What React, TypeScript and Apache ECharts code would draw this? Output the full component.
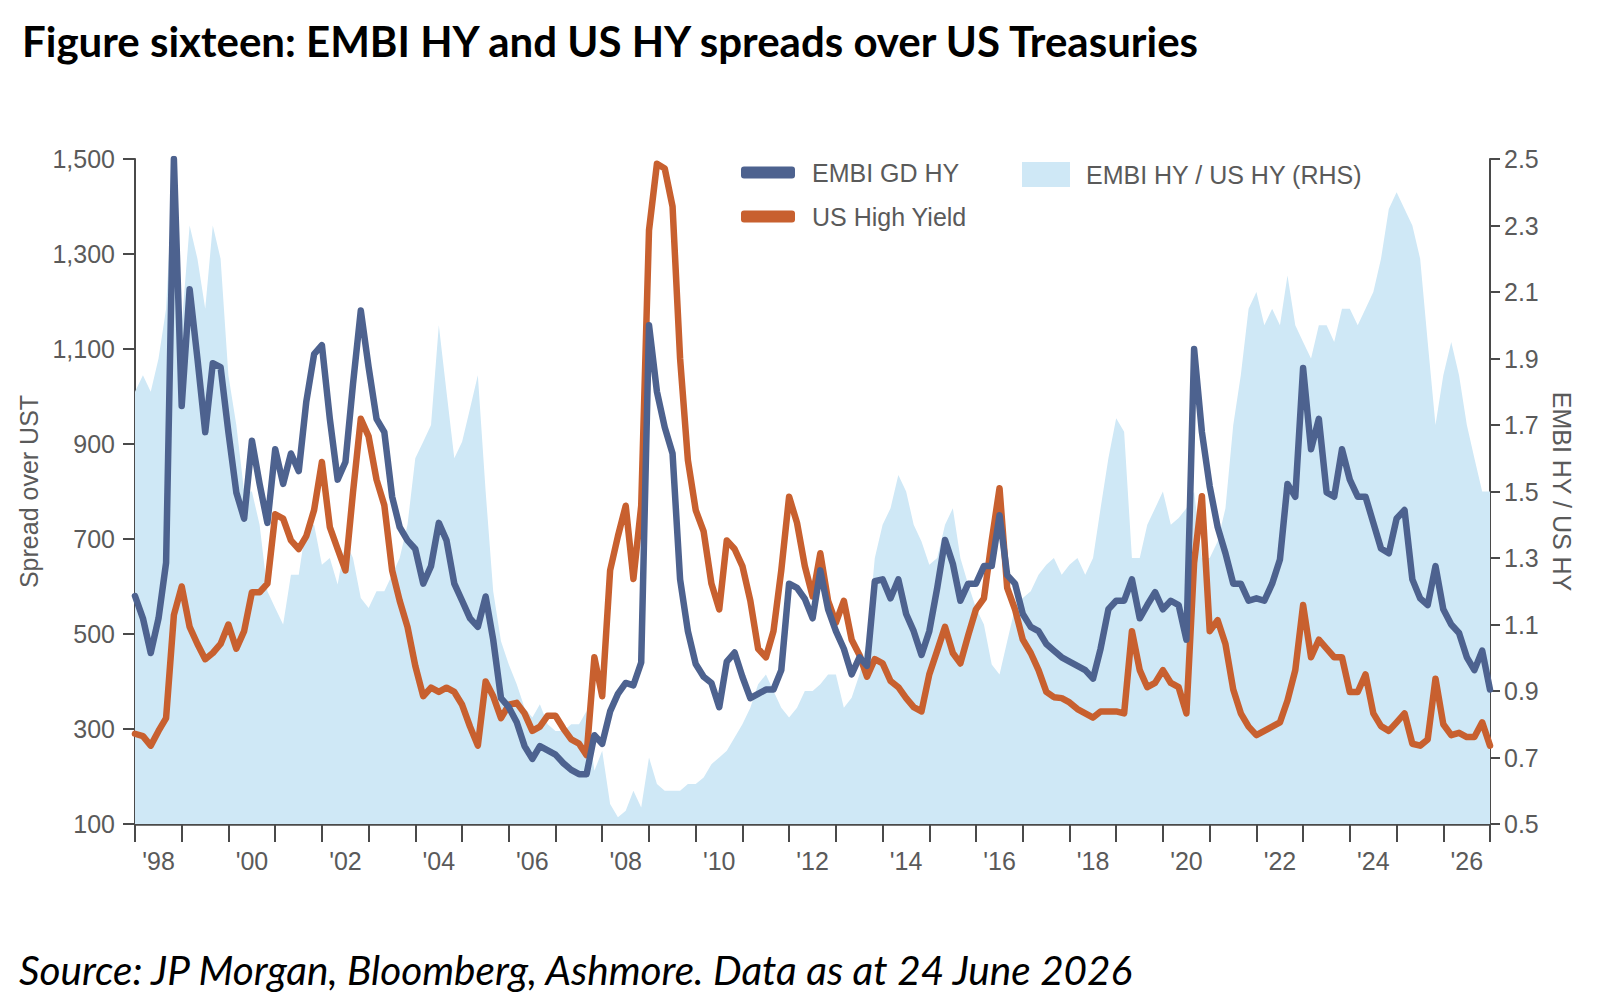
import { useEffect, useRef } from "react";
import * as echarts from "echarts";

const TITLE = "Figure sixteen: EMBI HY and US HY spreads over US Treasuries";
const SOURCE = "Source: JP Morgan, Bloomberg, Ashmore. Data as at 24 June 2026";

// observations every two months, from July 1997
const firstYear = 1997;
const firstMonth = 7;
const stepMonths = 2;

// EMBI GD HY spread over UST (bp)
const embiHY = [
  580, 533, 460, 533, 650, 1500, 980, 1226, 1080, 925, 1070, 1062, 925, 798, 743,
  907, 816, 734, 889, 816, 880, 843, 989, 1089, 1108, 953, 825, 862, 1026, 1181,
  1062, 953, 925, 789, 725, 697, 679, 606, 643, 734, 697, 606, 570, 533, 515,
  579, 488, 365, 346, 314, 264, 237, 264, 255, 246, 228, 214, 205, 205, 287,
  269, 337, 374, 397, 392, 440, 1150, 1010, 935, 880, 615, 506, 437, 410, 397,
  346, 442, 461, 410, 365, 374, 383, 383, 424, 606, 597, 574, 533, 634, 552,
  506, 469, 415, 451, 433, 611, 615, 575, 615, 542, 506, 456, 506, 597, 698,
  648, 570, 606, 606, 643, 643, 750, 624, 606, 542, 515, 506, 479, 465, 451,
  442, 433, 424, 406, 469, 552, 570, 570, 615, 533, 561, 588, 552, 570, 561,
  488, 1100, 925, 811, 725, 670, 606, 606, 570, 575, 570, 606, 657, 816, 789,
  1060, 889, 953, 798, 789, 889, 825, 789, 789, 734, 680, 670, 743, 761, 615,
  575, 561, 643, 552, 520, 502, 451, 424, 465, 383,
];

// US High Yield spread over UST (bp)
const usHY = [
  290, 285, 265, 296, 323, 540, 600, 515, 479, 447, 460, 479, 520, 469, 506,
  588, 588, 606, 752, 743, 697, 679, 706, 761, 862, 725, 679, 634, 798, 953,
  916, 825, 771, 634, 570, 515, 433, 369, 387, 378, 387, 378, 351, 305, 265,
  400, 369, 323, 351, 355, 333, 296, 305, 328, 328, 301, 278, 269, 245, 451,
  369, 634, 706, 770, 616, 770, 1350, 1490, 1480, 1400, 1080, 866, 761, 716, 606,
  552, 697, 679, 643, 570, 469, 451, 506, 634, 789, 734, 643, 579, 670, 570,
  524, 570, 488, 456, 410, 447, 438, 401, 388, 365, 346, 337, 415, 465, 515,
  460, 438, 497, 552, 575, 697, 807, 597, 552, 488, 460, 424, 378, 367, 365,
  356, 342, 333, 324, 337, 337, 337, 333, 506, 424, 388, 397, 424, 397, 388,
  333, 650, 790, 506, 529, 479, 383, 333, 305, 287, 296, 305, 314, 360, 424,
  561, 451, 488, 469, 451, 451, 378, 378, 415, 333, 306, 296, 314, 333, 269,
  265, 278, 406, 310, 287, 292, 283, 283, 314, 265,
];

// EMBI HY / US HY (RHS)
const ratio = [
  1.8, 1.85, 1.8, 1.9, 2.05, 2.5, 2.0, 2.3, 2.2, 2.05, 2.3, 2.2, 1.85, 1.7, 1.5,
  1.5, 1.4, 1.2, 1.15, 1.1, 1.25, 1.25, 1.4, 1.4, 1.28, 1.3, 1.22, 1.35, 1.3, 1.18,
  1.15, 1.2, 1.2, 1.25, 1.3, 1.4, 1.6, 1.65, 1.7, 2.0, 1.8, 1.6, 1.65, 1.75, 1.85,
  1.5, 1.2, 1.05, 0.98, 0.92, 0.85, 0.82, 0.86, 0.8, 0.78, 0.78, 0.8, 0.8, 0.84, 0.66,
  0.72, 0.56, 0.52, 0.54, 0.6, 0.55, 0.7, 0.62, 0.6, 0.6, 0.6, 0.62, 0.62, 0.64, 0.68,
  0.7, 0.72, 0.76, 0.8, 0.85, 0.92, 0.95, 0.9, 0.85, 0.82, 0.85, 0.9, 0.9, 0.92, 0.95,
  0.95, 0.85, 0.88, 0.95, 1.05, 1.3, 1.4, 1.45, 1.55, 1.5, 1.4, 1.35, 1.28, 1.3, 1.4,
  1.45, 1.3, 1.22, 1.15, 1.1, 0.98, 0.95, 1.05, 1.15, 1.18, 1.2, 1.25, 1.28, 1.3, 1.25,
  1.28, 1.3, 1.25, 1.3, 1.45, 1.6, 1.72, 1.68, 1.3, 1.3, 1.4, 1.45, 1.5, 1.4, 1.42,
  1.45, 1.5, 1.3, 1.3, 1.35, 1.45, 1.7, 1.85, 2.05, 2.1, 2.0, 2.05, 2.0, 2.15, 2.0,
  1.95, 1.9, 2.0, 2.0, 1.95, 2.05, 2.05, 2.0, 2.05, 2.1, 2.2, 2.35, 2.4, 2.35, 2.3,
  2.2, 1.95, 1.7, 1.85, 1.95, 1.85, 1.7, 1.6, 1.5, 1.5,
];

const leftTicks = [100, 300, 500, 700, 900, 1100, 1300, 1500];
const rightTicks = [0.5, 0.7, 0.9, 1.1, 1.3, 1.5, 1.7, 1.9, 2.1, 2.3, 2.5];
const labelYears = [1998, 2000, 2002, 2004, 2006, 2008, 2010, 2012, 2014, 2016, 2018, 2020, 2022, 2024, 2026];
const tickYears = [
  1997, 1998, 1999, 2000, 2001, 2002, 2003, 2004, 2005, 2006, 2007, 2008, 2009, 2010, 2011,
  2012, 2013, 2014, 2015, 2016, 2017, 2018, 2019, 2020, 2021, 2022, 2023, 2024, 2025, 2026,
];

const BLUE = "#4d628f";
const ORANGE = "#c8602f";
const AREA = "#cfe8f6";
const AXIS = "#4a4a4a";
const LABEL = "#5a5a5a";
const FONT = "'Liberation Sans', Arial, sans-serif";

const dates = embiHY.map((_, i) => {
  const m = firstMonth - 1 + i * stepMonths;
  return Date.UTC(firstYear + Math.floor(m / 12), m % 12, 1);
});

export default function App() {
  const chartRef = useRef<HTMLDivElement>(null);

  useEffect(() => {
    document.body.style.margin = "0";
    if (!chartRef.current) return;
    const chart = echarts.init(chartRef.current, null, { renderer: "svg" });

    const labelStyle = { color: LABEL, fontSize: 25, fontFamily: FONT };

    const option: echarts.EChartsOption = {
      animation: false,
      backgroundColor: "#fff",
      textStyle: { fontFamily: FONT },
      grid: { left: 135, top: 159, right: 121, bottom: 177, outerBoundsMode: "none" } as any,
      graphic: [
        {
          type: "text",
          left: 22,
          top: 20,
          style: { text: TITLE, font: "bold 42px Lato", fill: "#000" },
        },
        {
          type: "text",
          left: 19,
          top: 949,
          style: { text: SOURCE, font: "italic 40.5px Lato", fill: "#000" },
        },
      ],
      legend: [
        {
          data: ["EMBI GD HY"],
          left: 736,
          top: 155,
          icon: "roundRect",
          itemWidth: 54,
          itemHeight: 12,
          textStyle: { ...labelStyle, padding: [0, 0, 0, 12] },
        },
        {
          data: ["US High Yield"],
          left: 736,
          top: 199,
          icon: "roundRect",
          itemWidth: 54,
          itemHeight: 12,
          textStyle: { ...labelStyle, padding: [0, 0, 0, 12] },
        },
        {
          data: ["EMBI HY / US HY (RHS)"],
          left: 1017,
          top: 157,
          icon: "rect",
          itemWidth: 48,
          itemHeight: 25,
          textStyle: { ...labelStyle, padding: [0, 0, 0, 11] },
        },
      ],
      xAxis: {
        type: "value",
        min: dates[0],
        max: dates[dates.length - 1],
        axisLine: { show: true, lineStyle: { color: AXIS, width: 2.5 } },
        axisTick: {
          show: true,
          length: 18,
          customValues: tickYears.map((y) => Date.UTC(y, 6, 1)),
          lineStyle: { color: AXIS, width: 2 },
        },
        axisLabel: {
          ...labelStyle,
          margin: 24,
          customValues: labelYears.map((y) => Date.UTC(y, 0, 1)),
          formatter: (v: number) => "'" + String(new Date(v).getUTCFullYear()).slice(2),
        },
        splitLine: { show: false },
      } as any,
      yAxis: [
        {
          type: "value",
          position: "left",
          min: 100,
          max: 1500,
          name: "Spread over UST",
          nameLocation: "middle",
          nameGap: 76,
          nameTextStyle: labelStyle,
          axisLine: { show: true, lineStyle: { color: AXIS, width: 2 } },
          axisTick: { show: true, length: 12, customValues: leftTicks, lineStyle: { color: AXIS, width: 2 } },
          axisLabel: {
            ...labelStyle,
            margin: 20,
            customValues: leftTicks,
            formatter: (v: number) => v.toLocaleString("en-US"),
          },
          splitLine: { show: false },
        },
        {
          type: "value",
          position: "right",
          min: 0.5,
          max: 2.5,
          name: "EMBI HY / US HY",
          nameLocation: "middle",
          nameGap: 59,
          nameRotate: -90,
          nameTextStyle: labelStyle,
          axisLine: { show: true, lineStyle: { color: AXIS, width: 2 } },
          axisTick: { show: true, length: 10, customValues: rightTicks, lineStyle: { color: AXIS, width: 2 } },
          axisLabel: {
            ...labelStyle,
            margin: 14,
            customValues: rightTicks,
            formatter: (v: number) => v.toFixed(1),
          },
          splitLine: { show: false },
        },
      ] as any,
      series: [
        {
          name: "EMBI HY / US HY (RHS)",
          type: "line",
          yAxisIndex: 1,
          data: dates.map((d, i) => [d, ratio[i]]),
          showSymbol: false,
          lineStyle: { width: 0 },
          itemStyle: { color: AREA },
          areaStyle: { color: AREA, opacity: 1, origin: "start" },
          z: 1,
        },
        {
          name: "US High Yield",
          type: "line",
          yAxisIndex: 0,
          data: dates.map((d, i) => [d, usHY[i]]),
          showSymbol: false,
          lineStyle: { color: ORANGE, width: 6.5, join: "round", cap: "round" },
          itemStyle: { color: ORANGE },
          z: 2,
        },
        {
          name: "EMBI GD HY",
          type: "line",
          yAxisIndex: 0,
          data: dates.map((d, i) => [d, embiHY[i]]),
          showSymbol: false,
          lineStyle: { color: BLUE, width: 6.5, join: "round", cap: "round" },
          itemStyle: { color: BLUE },
          z: 3,
        },
      ],
    };

    chart.setOption(option);
    return () => chart.dispose();
  }, []);

  return <div ref={chartRef} style={{ width: 1611, height: 1001 }} />;
}
